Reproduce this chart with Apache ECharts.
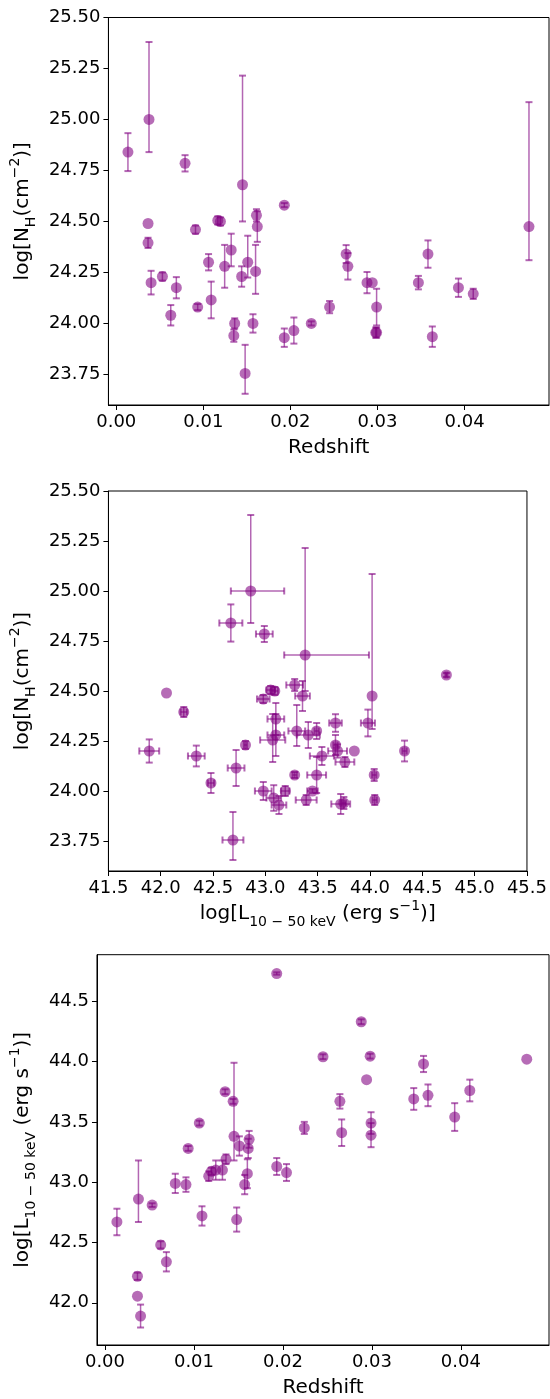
<!DOCTYPE html>
<html><head><meta charset="utf-8">
<script src="https://cdn.jsdelivr.net/npm/echarts@6/dist/echarts.min.js"></script>
<style>html,body{margin:0;padding:0;background:#fff}#c{width:550px;height:1399px}</style>
</head><body><div id="c"></div>
<script>
// ---- data (one entry per source) ----
const redshift = [0.00365,0.00365,0.0040,0.0053,0.00626,0.0069,0.0091,0.00935,0.0106,0.0109,0.01166,0.01196,0.01245,0.0132,0.0136,0.0135,0.0144,0.0145,0.0148,0.0151,0.0157,0.0160,0.0161,0.0162,0.0193,0.0193,0.0204,0.0224,0.0245,0.0264,0.0266,0.0288,0.0294,0.0299,0.0298,0.0299,0.0347,0.0358,0.0363,0.0393,0.0410,0.0474,0.00134,0.00376,0.0079];
const logNH = [24.49,24.395,24.20,24.23,24.04,24.175,24.46,24.08,24.30,24.115,24.505,24.50,24.28,24.36,24.00,23.94,24.23,24.68,23.755,24.30,24.00,24.255,24.53,24.475,24.58,23.93,23.965,24.00,24.08,24.34,24.28,24.20,24.20,24.08,23.955,23.955,24.20,24.34,23.935,24.175,24.145,24.475,24.84,25.00,24.785];
const logNHErrLo = [0,0.025,0.058,0.02,0.05,0.052,0.02,0.015,0.04,0.09,0.02,0.02,0.105,0.08,0.025,0.03,0.05,0.18,0.10,0.075,0.045,0.11,0.03,0.075,0.01,0.045,0.064,0.01,0.03,0.044,0.065,0.052,0,0.09,0.025,0.025,0.033,0.067,0.05,0.045,0.025,0.165,0.093,0.16,0.04];
const logNHErrHi = [0,0.025,0.058,0.02,0.05,0.052,0.02,0.015,0.04,0.09,0.02,0.02,0.105,0.08,0.025,0.03,0.05,0.535,0.14,0.13,0.045,0.13,0.03,0.075,0.01,0.045,0.064,0.01,0.03,0.044,0.065,0.052,0,0.09,0.025,0.025,0.033,0.067,0.05,0.045,0.025,0.61,0.093,0.38,0.04];
const logL = [42.055,42.22,41.89,42.81,42.48,42.34,42.98,43.28,43.49,42.72,43.05,43.09,43.10,43.10,43.19,43.75,43.67,43.38,42.69,43.30,42.98,43.07,43.28,43.355,44.73,43.13,43.08,43.45,44.04,43.67,43.41,44.33,43.85,43.49,44.045,43.39,43.69,43.98,43.72,43.54,43.76,44.02,42.67,42.86,42.99];
const logLErrLo = [0,0.03,0.095,0.015,0.03,0.08,0.06,0.02,0.02,0.08,0.04,0.03,0.08,0.08,0.04,0.02,0.02,0.2,0.1,0.08,0.08,0.12,0.08,0.07,0.01,0.07,0.07,0.05,0.02,0.06,0.11,0.02,0,0.09,0.02,0.1,0.09,0.067,0.09,0.115,0.09,0,0.11,0.19,0.08];
const logLErrHi = [0,0.03,0.095,0.015,0.03,0.08,0.06,0.02,0.02,0.08,0.04,0.03,0.08,0.08,0.04,0.02,0.02,0.61,0.1,0.08,0.08,0.12,0.08,0.07,0.01,0.07,0.07,0.05,0.02,0.06,0.11,0.02,0,0.09,0.02,0.1,0.09,0.067,0.09,0.115,0.09,0,0.11,0.32,0.08];

const zTicks = [0.00,0.01,0.02,0.03,0.04];
const nhTicks = [23.75,24.00,24.25,24.50,24.75,25.00,25.25,25.50];
const lTicksX = [41.5,42.0,42.5,43.0,43.5,44.0,44.5,45.0,45.5];
const lTicksY = [42.0,42.5,43.0,43.5,44.0,44.5];

// ---- styles ----
const FONT = 'DejaVu Sans';
const markerColor = 'rgba(128,0,128,0.72)';
const barColor = 'rgba(128,0,128,0.6)';
const CAP = 3.5;

function rows(xs, ys, xlo, xhi, ylo, yhi) {
  return xs.map((x, i) => [x, ys[i], xlo ? xlo[i] : 0, xhi ? xhi[i] : 0, ylo ? ylo[i] : 0, yhi ? yhi[i] : 0]);
}
const d1 = rows(redshift, logNH, null, null, logNHErrLo, logNHErrHi);
const d2 = rows(logL, logNH, logLErrLo, logLErrHi, logNHErrLo, logNHErrHi);
const d3 = rows(redshift, logL, null, null, logLErrLo, logLErrHi);

function renderErr(params, api) {
  const x = api.value(0), y = api.value(1);
  const xlo = api.value(2), xhi = api.value(3), ylo = api.value(4), yhi = api.value(5);
  const st = {stroke: barColor, lineWidth: 1.5, fill: null};
  const cs = {stroke: barColor, lineWidth: 2, fill: null};
  const ch = [];
  if (ylo > 0 || yhi > 0) {
    const a = api.coord([x, y - ylo]), b = api.coord([x, y + yhi]);
    ch.push({type:'line', shape:{x1:a[0],y1:a[1],x2:b[0],y2:b[1]}, style:st});
    ch.push({type:'line', shape:{x1:a[0]-CAP,y1:a[1],x2:a[0]+CAP,y2:a[1]}, style:cs});
    ch.push({type:'line', shape:{x1:b[0]-CAP,y1:b[1],x2:b[0]+CAP,y2:b[1]}, style:cs});
  }
  if (xlo > 0 || xhi > 0) {
    const a = api.coord([x - xlo, y]), b = api.coord([x + xhi, y]);
    ch.push({type:'line', shape:{x1:a[0],y1:a[1],x2:b[0],y2:b[1]}, style:st});
    ch.push({type:'line', shape:{x1:a[0],y1:a[1]-CAP,x2:a[0],y2:a[1]+CAP}, style:cs});
    ch.push({type:'line', shape:{x1:b[0],y1:b[1]-CAP,x2:b[0],y2:b[1]+CAP}, style:cs});
  }
  return {type:'group', children: ch};
}

const rich = {
  n: {fontSize: 20, fontFamily: FONT, color: '#000', lineHeight: 30},
  sub: {fontSize: 14, fontFamily: FONT, color: '#000', verticalAlign: 'bottom', lineHeight: 30},
  sup: {fontSize: 14, fontFamily: FONT, color: '#000', verticalAlign: 'top', lineHeight: 30}
};
const nhName = '{n|log[N}{sub|H}{n|(cm}{sup|−2}{n|)]}';
const lName = '{n|log[L}{sub|10 − 50 keV}{n| (erg s}{sup|−1}{n|)]}';

function xAxisCfg(g, min, max, ticks, fmt, name, gap) {
  return {
    gridIndex: g, type: 'value', min, max,
    axisLine: {show: true, onZero: false, lineStyle: {color: '#000', width: 1}},
    axisTick: {show: true, length: 5, customValues: ticks, lineStyle: {color: '#000'}},
    axisLabel: {customValues: ticks, formatter: fmt, fontSize: 18, fontFamily: FONT, color: '#000', margin: 8},
    splitLine: {show: false},
    name, nameLocation: 'middle', nameGap: gap,
    nameTextStyle: {fontSize: 20, fontFamily: FONT, color: '#000', rich}
  };
}
function yAxisCfg(g, min, max, ticks, fmt, name, gap) {
  return {
    gridIndex: g, type: 'value', min, max,
    axisLine: {show: true, onZero: false, lineStyle: {color: '#000', width: 1}},
    axisTick: {show: true, length: 5, customValues: ticks, lineStyle: {color: '#000'}},
    axisLabel: {customValues: ticks, formatter: fmt, fontSize: 18, fontFamily: FONT, color: '#000', margin: 8},
    splitLine: {show: false},
    name, nameLocation: 'middle', nameGap: gap, nameRotate: 90,
    nameTextStyle: {fontSize: 20, fontFamily: FONT, color: '#000', rich}
  };
}
const f2 = v => v.toFixed(2), f1 = v => v.toFixed(1);

const series = [];
[[d1,0],[d2,1],[d3,2]].forEach(([d, i]) => {
  series.push({type:'custom', xAxisIndex:i, yAxisIndex:i, data:d, renderItem: renderErr, z: 1, silent: true,
    encode: {x: 0, y: 1}});
  series.push({type:'scatter', xAxisIndex:i, yAxisIndex:i, data:d.map(r => [r[0], r[1]]), symbol:'circle', symbolSize: 11,
    itemStyle: {color: markerColor}, z: 2, silent: true});
});

const chart = echarts.init(document.getElementById('c'), null, {renderer: 'canvas'});
chart.setOption({
  animation: false,
  backgroundColor: '#fff',
  grid: [
    {left: 102.5, top: 17.5, width: 446.5, height: 387.5, show: true, borderColor: '#000', borderWidth: 1, backgroundColor: 'transparent'},
    {left: 102.7, top: 491, width: 426, height: 380, show: true, borderColor: '#000', borderWidth: 1, backgroundColor: 'transparent'},
    {left: 91, top: 954.7, width: 458, height: 393.6, show: true, borderColor: '#000', borderWidth: 1, backgroundColor: 'transparent'}
  ],
  xAxis: [
    xAxisCfg(0, -0.0009, 0.0497, zTicks, f2, '{n|Redshift}', 28),
    xAxisCfg(1, 41.5, 45.5, lTicksX, f1, lName, 28),
    xAxisCfg(2, -0.0009, 0.0499, zTicks, f2, '{n|Redshift}', 28)
  ],
  yAxis: [
    yAxisCfg(0, 23.6, 25.5, nhTicks, f2, nhName, 66),
    yAxisCfg(1, 23.6, 25.5, nhTicks, f2, nhName, 66),
    yAxisCfg(2, 41.65, 44.886, lTicksY, f1, lName, 56)
  ],
  series
});
</script>
</body></html>
